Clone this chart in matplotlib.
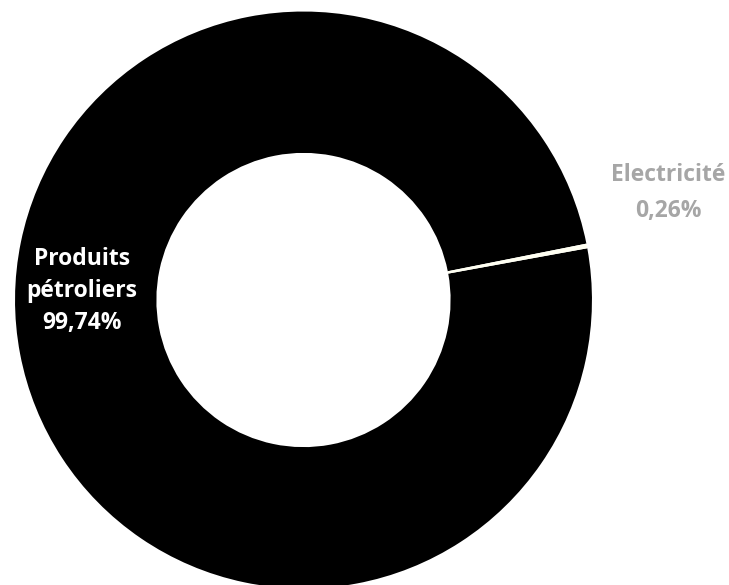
import matplotlib.pyplot as plt

# ==========================
# DATA
# ==========================
categories = ["Produits pétroliers", "Electricité"]
shares = [99.74, 0.26]
colors = ["#000000", "#FFFFF2"]
label_colors = ["white", "#A6A6A6"]

plt.rcParams['font.family'] = ['Open Sans', 'DejaVu Sans']

# ==========================
# CHART
# ==========================
fig = plt.figure(figsize=(7.29, 5.85), dpi=100)
ax = fig.add_axes([0, 0, 1, 1])

# electricity slice sits ~10.8 deg above the right horizontal
start = 10.8 - 360 * (shares[0] + shares[1] / 2) / 100 + 360
ax.pie(shares, colors=colors, startangle=start, radius=1,
       wedgeprops=dict(width=0.49, linewidth=0))

ax.set_aspect('equal')
ax.set_xlim(-1.052, 1.475)
ax.set_ylim(-0.988, 1.040)
ax.axis('off')


def fmt(v):
    return f"{v:.2f}".replace(".", ",") + "%"


ax.text(-0.768, 0.031, "Produits\npétroliers\n" + fmt(shares[0]),
        ha='center', va='center', fontsize=16.5, fontweight='bold',
        color=label_colors[0], linespacing=1.42)
ax.text(1.264, 0.370, categories[1] + "\n" + fmt(shares[1]),
        ha='center', va='center', fontsize=16.5, fontweight='bold',
        color=label_colors[1], linespacing=1.65)

fig.savefig("out.png", dpi=100)
